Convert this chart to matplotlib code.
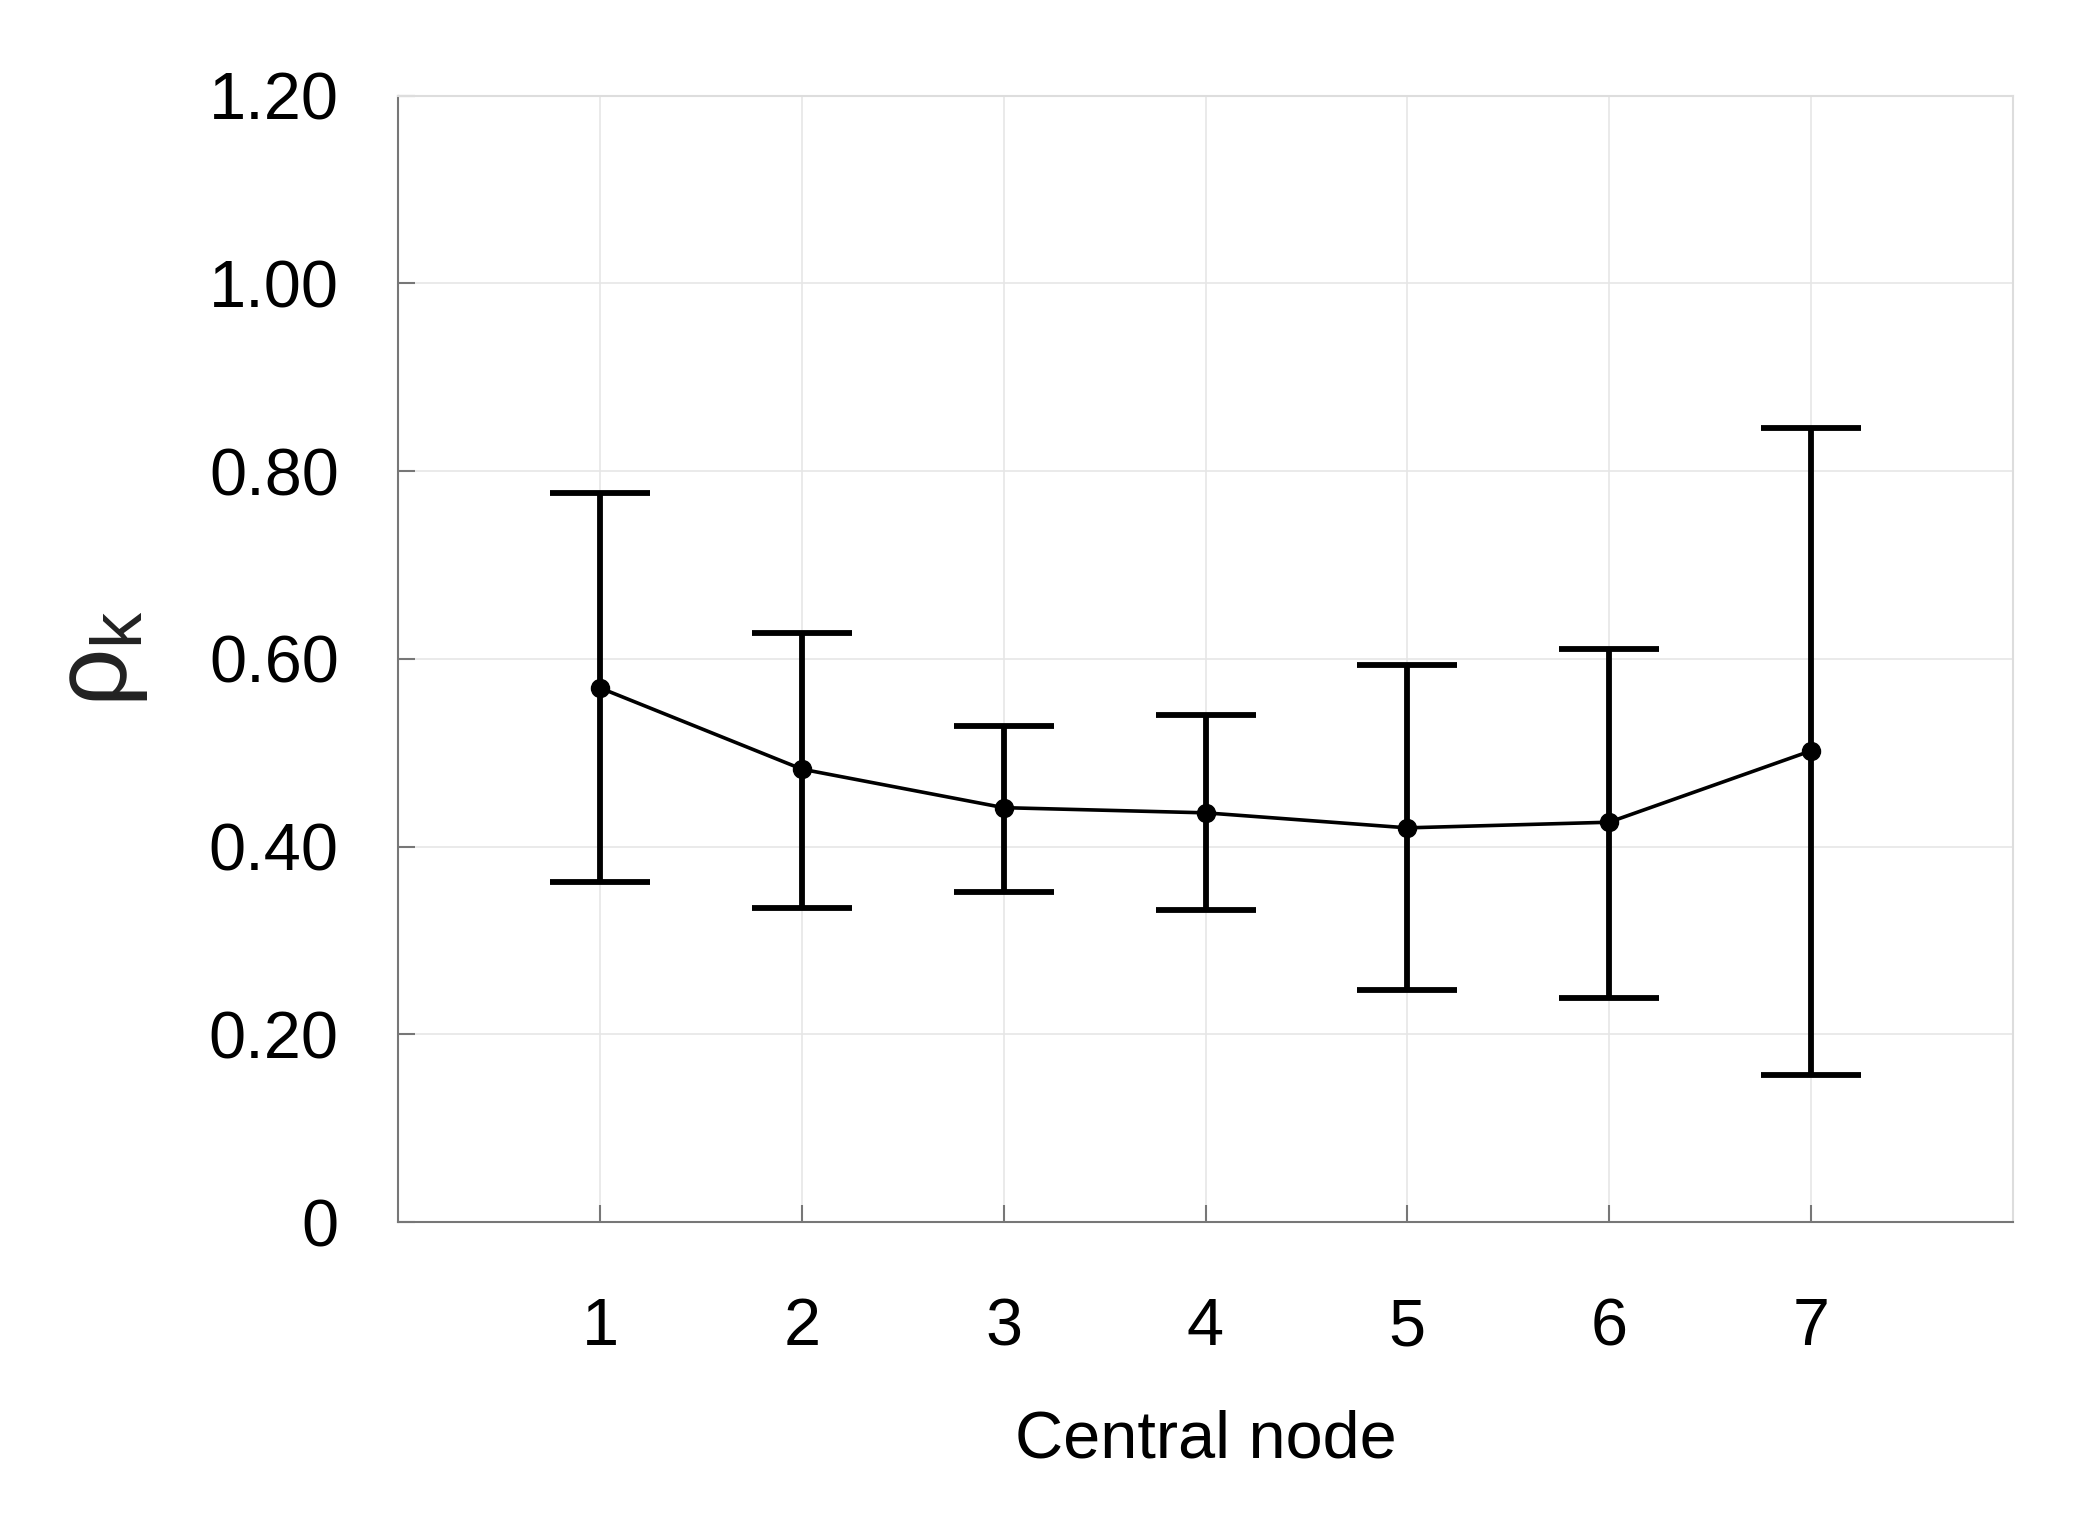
import matplotlib
matplotlib.use('Agg')
from matplotlib import pyplot as plt

# Central node vs rho_k (mean with error bars)
nodes = [1, 2, 3, 4, 5, 6, 7]
means = [0.569, 0.4825, 0.4415, 0.436, 0.420, 0.426, 0.502]
upper = [0.777, 0.628, 0.529, 0.5405, 0.593, 0.611, 0.846]
lower = [0.362, 0.335, 0.352, 0.3325, 0.2476, 0.239, 0.157]
ytick_vals = [0, 0.2, 0.4, 0.6, 0.8, 1.0, 1.2]
ytick_labels = ['0', '0.20', '0.40', '0.60', '0.80', '1.00', '1.20']

plt.rcParams['font.family'] = ['Liberation Sans', 'DejaVu Sans']
plt.rcParams['mathtext.fontset'] = 'custom'
plt.rcParams['mathtext.rm'] = 'Liberation Sans'
plt.rcParams['mathtext.it'] = 'Liberation Sans'

err_lo = [m - l for m, l in zip(means, lower)]
err_hi = [u - m for m, u in zip(means, upper)]

fig = plt.figure(figsize=(20.83, 15.33), dpi=100)
ax = fig.add_axes([0.1913, 0.2028, 0.7749, 0.7348])

ax.errorbar(nodes, means, yerr=[err_lo, err_hi], fmt='none', ecolor='black',
            elinewidth=4.2, capsize=36, capthick=4.2, zorder=3)
ax.plot(nodes, means, color='black', linewidth=2.6, marker='o', markersize=13, zorder=4)

ax.set_xlim(0, 8)
ax.set_ylim(0, 1.2)
ax.set_xticks(nodes)
ax.set_yticks(ytick_vals)
ax.set_yticklabels(ytick_labels)

ax.grid(True, color='#e6e6e6', linewidth=1.2)
ax.set_axisbelow(True)
for s in ['top', 'right']:
    ax.spines[s].set_color('#dddddd')
    ax.spines[s].set_linewidth(1.5)
for s in ['left', 'bottom']:
    ax.spines[s].set_color('#777777')
    ax.spines[s].set_linewidth(1.5)

ax.tick_params(axis='both', direction='in', length=12, width=1.5, color='#777777',
               labelsize=48, labelcolor='black')
ax.tick_params(axis='x', pad=54)
ax.tick_params(axis='y', pad=43)

ax.set_xlabel('Central node', fontsize=48, labelpad=36)
ax.set_ylabel(r'$\rho_\mathrm{k}$', fontsize=74, labelpad=42, color='#222222')

fig.savefig('out.png', dpi=100)
